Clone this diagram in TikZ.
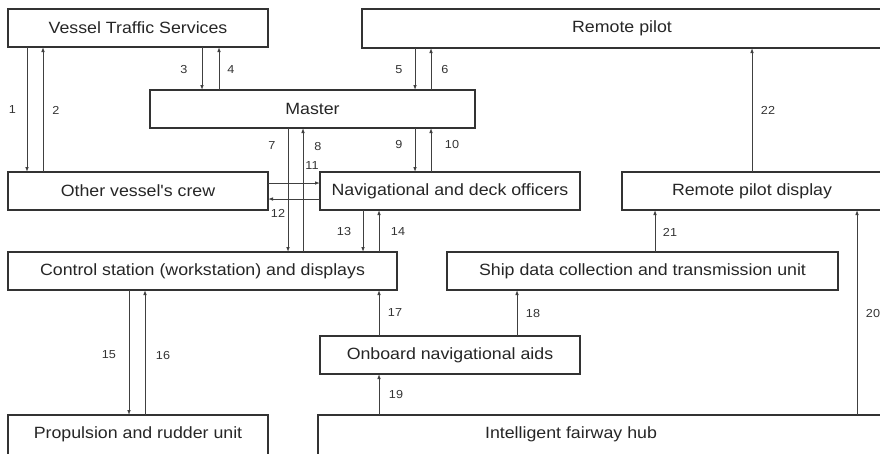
\documentclass[tikz,border=0pt]{standalone}
\usepackage{fontspec}
\setmainfont{Liberation Sans}
\newfontfamily\diagfont{Liberation Sans}[FakeStretch=1.09]
\usetikzlibrary{arrows.meta}
\begin{document}
\begin{tikzpicture}[x=1pt,y=-1pt,
  box/.style={draw=black!80, line width=1.4pt, fill=white, inner sep=0pt,
    outer sep=0pt, anchor=north west, text=black!85,
    font=\diagfont\fontsize{16.3}{19}\selectfont},
  boxtext/.style={inner sep=0pt, text=black!85,
    font=\diagfont\fontsize{16.3}{19}\selectfont},
  link/.style={draw=black!75, line width=0.9pt,
    -{Latex[length=5pt,width=3.6pt]}},
  num/.style={inner sep=0pt, text=black!80,
    font=\diagfont\fontsize{11.6}{14}\selectfont}]
\useasboundingbox (0,0) rectangle (880,453);
\clip (0,0) rectangle (880,453);

% ---- blocks ----
\node[box, minimum width=260, minimum height=38] (vts)    at (8,9)     {Vessel Traffic Services};
\node[box, minimum width=520, minimum height=39] (rp)     at (362,9)   {Remote pilot};
\node[box, minimum width=325, minimum height=38] (master) at (150,90)  {Master};
\node[box, minimum width=260, minimum height=38] (crew)   at (8,172)   {Other vessel's crew};
\node[box, minimum width=260, minimum height=38] (nav)    at (320,172) {Navigational and deck officers};
\node[box, minimum width=260, minimum height=38] (rpd)    at (622,172) {Remote pilot display};
\node[box, minimum width=389, minimum height=38] (ctrl)   at (8,252)   {Control station (workstation) and displays};
\node[box, minimum width=391, minimum height=38] (ship)   at (447,252) {Ship data collection and transmission unit};
\node[box, minimum width=260, minimum height=38] (aids)   at (320,336) {Onboard navigational aids};
\node[box, minimum width=260, minimum height=45] (prop)   at (8,415)   {};
\node[box, minimum width=564, minimum height=45] (ifh)    at (318,415) {};
\node[boxtext] (proptext) at (138,434) {Propulsion and rudder unit};
\node[boxtext] (ifhtext)  at (571,434) {Intelligent fairway hub};

% ---- columns and rows of the connectors ----
\coordinate (c1)  at (27,0);
\coordinate (c2)  at (43,0);
\coordinate (c3)  at (202,0);
\coordinate (c4)  at (219,0);
\coordinate (c5)  at (415,0);
\coordinate (c6)  at (431,0);
\coordinate (c7)  at (288,0);
\coordinate (c8)  at (303,0);
\coordinate (c13) at (363,0);
\coordinate (c14) at (379,0);
\coordinate (c15) at (129,0);
\coordinate (c16) at (145,0);
\coordinate (c18) at (517,0);
\coordinate (c20) at (857,0);
\coordinate (c21) at (655,0);
\coordinate (c22) at (752,0);
\coordinate (r11) at (0,183);
\coordinate (r12) at (0,199);

% ---- connectors ----
\draw[link] (vts.south -| c1)    -- (crew.north -| c1);
\draw[link] (crew.north -| c2)   -- (vts.south -| c2);
\draw[link] (vts.south -| c3)    -- (master.north -| c3);
\draw[link] (master.north -| c4) -- (vts.south -| c4);
\draw[link] (rp.south -| c5)     -- (master.north -| c5);
\draw[link] (master.north -| c6) -- (rp.south -| c6);
\draw[link] (master.south -| c7) -- (ctrl.north -| c7);
\draw[link] (ctrl.north -| c8)   -- (master.south -| c8);
\draw[link] (master.south -| c5) -- (nav.north -| c5);
\draw[link] (nav.north -| c6)    -- (master.south -| c6);
\draw[link] (crew.east |- r11)   -- (nav.west |- r11);
\draw[link] (nav.west |- r12)    -- (crew.east |- r12);
\draw[link] (nav.south -| c13)   -- (ctrl.north -| c13);
\draw[link] (ctrl.north -| c14)  -- (nav.south -| c14);
\draw[link] (ctrl.south -| c15)  -- (prop.north -| c15);
\draw[link] (prop.north -| c16)  -- (ctrl.south -| c16);
\draw[link] (aids.north -| c14)  -- (ctrl.south -| c14);
\draw[link] (aids.north -| c18)  -- (ship.south -| c18);
\draw[link] (ifh.north -| c14)   -- (aids.south -| c14);
\draw[link] (ifh.north -| c20)   -- (rpd.south -| c20);
\draw[link] (ship.north -| c21)  -- (rpd.south -| c21);
\draw[link] (rpd.north -| c22)   -- (rp.south -| c22);

% ---- connector numbers ----
\node[num] (n1)  at (12.5,110) {1};
\node[num] (n2)  at (56,110)   {2};
\node[num] (n3)  at (184,70)   {3};
\node[num] (n4)  at (231,70)   {4};
\node[num] (n5)  at (399,70)   {5};
\node[num] (n6)  at (445,70)   {6};
\node[num] (n7)  at (272,146)  {7};
\node[num] (n8)  at (318,147)  {8};
\node[num] (n9)  at (399,145)  {9};
\node[num] (n10) at (452,145)  {10};
\node[num] (n11) at (312,166)  {11};
\node[num] (n12) at (278,213)  {12};
\node[num] (n13) at (344,232)  {13};
\node[num] (n14) at (398,232)  {14};
\node[num] (n15) at (109,355)  {15};
\node[num] (n16) at (163,355)  {16};
\node[num] (n17) at (395,313)  {17};
\node[num] (n18) at (533,313)  {18};
\node[num] (n19) at (396,394)  {19};
\node[num] (n20) at (873,313)  {20};
\node[num] (n21) at (670,232)  {21};
\node[num] (n22) at (768,110)  {22};
\end{tikzpicture}
\end{document}
